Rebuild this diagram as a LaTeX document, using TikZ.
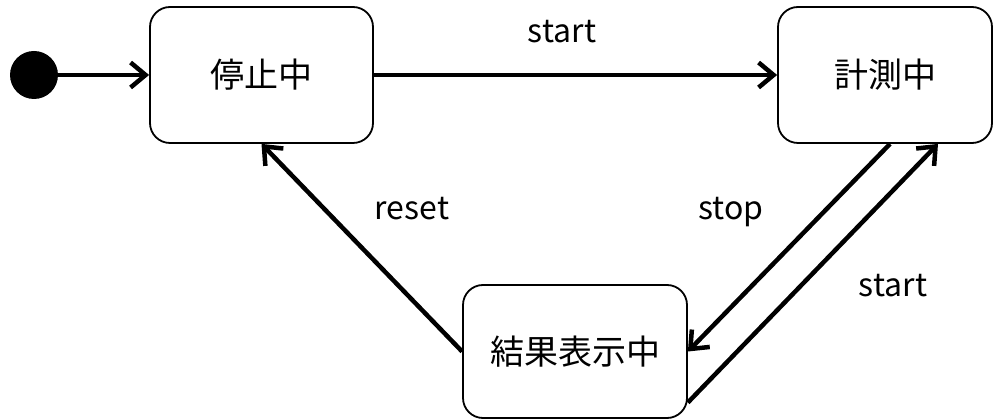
\documentclass[tikz,border=0pt]{standalone}
\usepackage{fontspec}
\setmainfont{Noto Sans CJK JP}
\usetikzlibrary{arrows.meta}
\begin{document}
\begin{tikzpicture}[x=1pt,y=-1pt,
  state/.style={draw=black,line width=1.8pt,rounded corners=20pt,inner sep=0pt,font=\fontsize{34}{40}\selectfont},
  trans/.style={line width=4.5pt,-{Straight Barb[length=15pt,width=25pt,line width=4.5pt]}},
  lbl/.style={anchor=base,font=\fontsize{32}{38}\selectfont,inner sep=0pt}]
\useasboundingbox (0,0) rectangle (994,419);
\node[circle,fill=black,minimum size=48pt,inner sep=0pt] (init) at (34,75) {};
\node[state,minimum width=223pt,minimum height=136pt] (stop) at (261.5,75) {停止中};
\node[state,minimum width=214pt,minimum height=136pt] (meas) at (885,75) {計測中};
\node[state,minimum width=224pt,minimum height=133pt] (res) at (575,351.5) {結果表示中};
\draw[trans] (init) -- (stop.west);
\draw[trans] (stop.east) -- (meas.west);
\draw[trans] ([xshift=5pt]meas.south) -- (res.east);
\draw[trans] ([yshift=-51pt]res.east) -- ([xshift=53pt]meas.south);
\draw[trans] (res.west) -- (stop.south);
\node[lbl] (l1) at (562,43) {start};
\node[lbl] (l2) at (412,220) {reset};
\node[lbl] (l3) at (731,220) {stop};
\node[lbl] (l4) at (893,297) {start};
\end{tikzpicture}
\end{document}
